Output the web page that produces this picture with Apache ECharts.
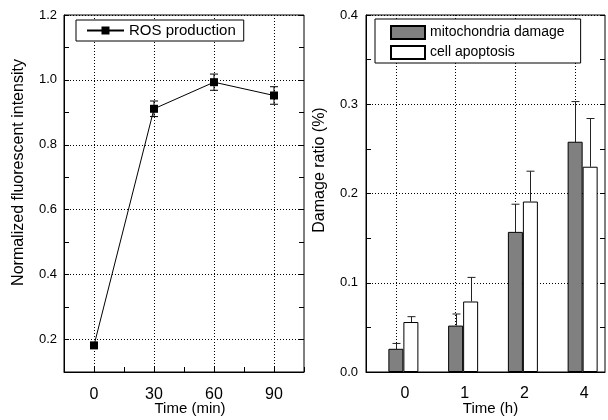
<!DOCTYPE html>
<html><head><meta charset="utf-8">
<script src="https://cdn.jsdelivr.net/npm/echarts@6/dist/echarts.min.js"></script>
<style>html,body{margin:0;padding:0;background:#fff}#c{width:608px;height:420px}</style>
</head><body><div id="c"></div>
<script>
// ---- data (left panel) ----
const rosTime = [0, 30, 60, 90];
const rosValue = [0.182, 0.911, 0.993, 0.952];
const rosErr = [0, 0.024, 0.025, 0.027];
const leftXTickLabels = [0, 30, 60, 90];
const leftYTickLabels = [0.2, 0.4, 0.6, 0.8, 1.0, 1.2];

// ---- data (right panel) ----
const hourCats = ['0', '1', '2', '4'];
const mitoValue = [0.026, 0.052, 0.157, 0.258];
const mitoErr = [0.006, 0.013, 0.031, 0.045];
const apopValue = [0.056, 0.079, 0.191, 0.230];
const apopErr = [0.006, 0.027, 0.034, 0.054];
const rightYTickLabels = [0.0, 0.1, 0.2, 0.3, 0.4];

const FONT = 'Liberation Sans';
const BAR_W = 15;

const chart = echarts.init(document.getElementById('c'), null, {renderer: 'canvas'});

function near(list, v) { return list.some(t => Math.abs(t - v) < 1e-6); }

function errLeft(params, api) {
  const x = api.value(0), y = api.value(1), e = api.value(2);
  if (!e) return null;
  const hi = api.coord([x, y + e]), lo = api.coord([x, y - e]);
  const w = 4, st = {stroke: '#000', lineWidth: 1};
  return {type: 'group', children: [
    {type: 'line', shape: {x1: hi[0], y1: hi[1], x2: lo[0], y2: lo[1]}, style: st},
    {type: 'line', shape: {x1: hi[0] - w, y1: hi[1], x2: hi[0] + w, y2: hi[1]}, style: st},
    {type: 'line', shape: {x1: lo[0] - w, y1: lo[1], x2: lo[0] + w, y2: lo[1]}, style: st}
  ]};
}
function errRight(offset) {
  return function (params, api) {
    const c = api.value(0), v = api.value(1), e = api.value(2);
    const top = api.coord([c, v + e]), base = api.coord([c, v]);
    const x = Math.round(top[0] + offset) + 0.5;
    const w = 4, st = {stroke: '#222', lineWidth: 1};
    return {type: 'group', children: [
      {type: 'line', shape: {x1: x, y1: top[1], x2: x, y2: base[1]}, style: st},
      {type: 'line', shape: {x1: x - w, y1: top[1], x2: x + w, y2: top[1]}, style: st}
    ]};
  };
}

const DOT = [1, 2];
const axisLineBlack = {show: true, onZero: false, lineStyle: {color: '#000', width: 1}};
const tickIn = {show: true, inside: true, length: 5, lineStyle: {color: '#000', width: 1}};

const option = {
  backgroundColor: '#fff',
  animation: false,
  textStyle: {fontFamily: FONT, color: '#000'},
  grid: [
    {left: 64, top: 15, width: 240, height: 357, show: true, borderColor: '#000', borderWidth: 1, containLabel: false, outerBoundsMode: 'none'},
    {left: 366, top: 15, width: 239, height: 357, show: true, borderColor: '#000', borderWidth: 1, containLabel: false, outerBoundsMode: 'none'}
  ],
  legend: [
    {
      data: ['ROS production'], left: 76, top: 20, orient: 'horizontal', backgroundColor: '#fff',
      borderColor: '#000', borderWidth: 1, borderRadius: 0, padding: [3, 8, 3, 10],
      itemWidth: 37, itemHeight: 10, itemGap: 0,
      textStyle: {fontFamily: FONT, fontSize: 15, color: '#000'}
    },
    {
      data: ['mitochondria damage', 'cell apoptosis'], left: 375, top: 19, orient: 'vertical',
      backgroundColor: '#fff', icon: 'rect',
      borderColor: '#000', borderWidth: 1, borderRadius: 0, padding: [6, 16, 3, 15],
      itemWidth: 34, itemHeight: 13, itemGap: 5,
      textStyle: {fontFamily: FONT, fontSize: 14, color: '#000'}
    }
  ],
  xAxis: [
    {
      gridIndex: 0, type: 'value', min: -15, max: 105, interval: 15,
      name: 'Time (min)', nameLocation: 'middle', nameGap: 29, nameMoveOverlap: false,
      nameTextStyle: {fontFamily: FONT, fontSize: 15, color: '#000', padding: [0, 0, 0, 12]},
      axisLine: axisLineBlack, axisTick: tickIn,
      axisLabel: {margin: 15, fontFamily: FONT, fontSize: 16, color: '#000', showMinLabel: true, showMaxLabel: true,
        formatter: v => near(leftXTickLabels, v) ? String(Math.round(v)) : ''},
      splitLine: {show: true, lineStyle: {color: ['transparent', '#000'], type: DOT, width: 1}}
    },
    {
      gridIndex: 1, type: 'category', data: hourCats,
      name: 'Time (h)', nameLocation: 'middle', nameGap: 29, nameMoveOverlap: false,
      nameTextStyle: {fontFamily: FONT, fontSize: 15, color: '#000', padding: [0, 0, 0, 10]},
      axisLine: axisLineBlack, axisTick: {show: false},
      axisLabel: {margin: 14, fontFamily: FONT, fontSize: 16, color: '#000', padding: [0, 0, 0, 18]},
      splitLine: {show: false}
    },
    {
      gridIndex: 1, type: 'value', min: -0.5, max: 3.5, interval: 0.5,
      axisLine: {show: false, onZero: false}, axisTick: {show: false}, axisLabel: {show: false},
      splitLine: {show: true, lineStyle: {color: ['transparent', '#000'], type: DOT, width: 1}}
    }
  ],
  yAxis: [
    {
      gridIndex: 0, type: 'value', min: 0.1, max: 1.2, interval: 0.1,
      name: 'Normalized fluorescent intensity', nameLocation: 'middle', nameGap: 37, nameMoveOverlap: false,
      nameTextStyle: {fontFamily: FONT, fontSize: 16, color: '#000', padding: [0, 0, 0, 42]},
      axisLine: axisLineBlack, axisTick: tickIn,
      axisLabel: {margin: 7, fontFamily: FONT, fontSize: 13, color: '#000', showMinLabel: true, showMaxLabel: true,
        formatter: v => near(leftYTickLabels, v) ? v.toFixed(1) : ''},
      splitLine: {show: true, lineStyle: {color: ['transparent', '#000'], type: DOT, width: 1}}
    },
    {
      gridIndex: 0, type: 'value', min: 0.1, max: 1.2, interval: 0.1, position: 'right',
      axisLine: {show: false, onZero: false}, axisTick: tickIn, axisLabel: {show: false}, splitLine: {show: false}
    },
    {
      gridIndex: 1, type: 'value', min: 0, max: 0.4, interval: 0.05,
      name: 'Damage ratio (%)', nameLocation: 'middle', nameGap: 38, nameMoveOverlap: false,
      nameTextStyle: {fontFamily: FONT, fontSize: 16, color: '#000', padding: [0, 0, 0, 47]},
      axisLine: axisLineBlack, axisTick: tickIn,
      axisLabel: {margin: 8, fontFamily: FONT, fontSize: 13, color: '#000', showMinLabel: true, showMaxLabel: true,
        formatter: v => near(rightYTickLabels, v) ? v.toFixed(1) : ''},
      splitLine: {show: true, lineStyle: {color: ['#000', 'transparent'], type: DOT, width: 1}}
    },
    {
      gridIndex: 1, type: 'value', min: 0, max: 0.4, interval: 0.05, position: 'right',
      axisLine: {show: false, onZero: false}, axisTick: tickIn, axisLabel: {show: false}, splitLine: {show: false}
    }
  ],
  series: [
    {
      name: 'ROS production', type: 'line', xAxisIndex: 0, yAxisIndex: 0,
      data: rosTime.map((t, i) => [t, rosValue[i]]),
      symbol: 'rect', symbolSize: 8, showSymbol: true,
      lineStyle: {color: '#000', width: 1}, itemStyle: {color: '#000'}, z: 3
    },
    {
      name: 'ros-err', type: 'custom', xAxisIndex: 0, yAxisIndex: 0,
      data: rosTime.map((t, i) => [t, rosValue[i], rosErr[i]]),
      renderItem: errLeft, z: 2, silent: true
    },
    {
      name: '_pad', type: 'bar', xAxisIndex: 1, yAxisIndex: 2,
      data: hourCats.map(() => '-'), barWidth: BAR_W, barGap: '0%'
    },
    {
      name: 'mitochondria damage', type: 'bar', xAxisIndex: 1, yAxisIndex: 2,
      data: mitoValue, barWidth: BAR_W, barGap: '0%',
      itemStyle: {color: '#808080', borderColor: '#000', borderWidth: 1}, z: 2
    },
    {
      name: 'cell apoptosis', type: 'bar', xAxisIndex: 1, yAxisIndex: 2,
      data: apopValue, barWidth: BAR_W, barGap: '0%',
      itemStyle: {color: '#fff', borderColor: '#000', borderWidth: 1}, z: 2
    },
    {
      name: 'mito-err', type: 'custom', xAxisIndex: 1, yAxisIndex: 2,
      data: hourCats.map((c, i) => [i, mitoValue[i], mitoErr[i]]),
      renderItem: errRight(0), z: 3, silent: true
    },
    {
      name: 'apop-err', type: 'custom', xAxisIndex: 1, yAxisIndex: 2,
      data: hourCats.map((c, i) => [i, apopValue[i], apopErr[i]]),
      renderItem: errRight(BAR_W), z: 3, silent: true
    }
  ]
};
chart.setOption(option);
</script>
</body></html>
